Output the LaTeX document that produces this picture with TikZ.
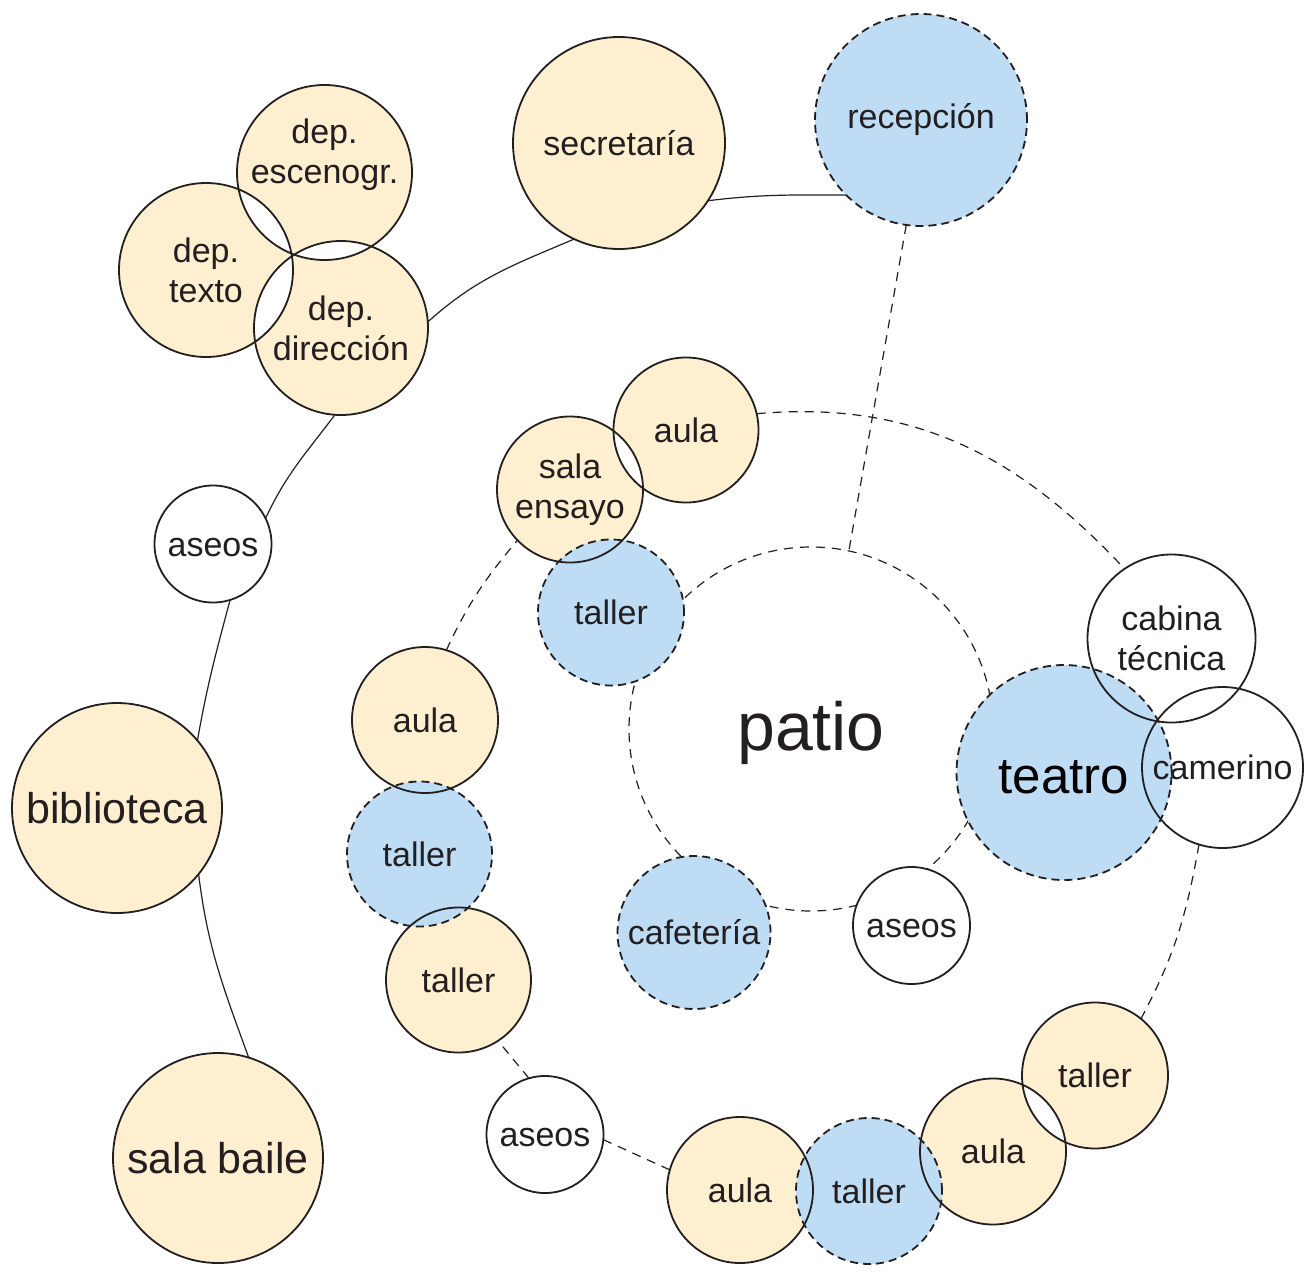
\documentclass[tikz,border=0pt]{standalone}
\usepackage{fontspec}
\setmainfont{Liberation Sans}
\definecolor{yel}{HTML}{FDEFCF}
\definecolor{blu}{HTML}{BEDDF5}
\definecolor{ink}{HTML}{231F20}
\pgfdeclarelayer{conn}
\pgfdeclarelayer{wfill}
\pgfdeclarelayer{yfill}
\pgfdeclarelayer{bfill}
\pgfsetlayers{conn,wfill,yfill,bfill,main}
\begin{document}
\begin{tikzpicture}[x=0.5pt,y=0.5pt,
  base/.style={circle,inner sep=0pt,outer sep=0pt,align=center,text=ink,
    font=\fontsize{17}{20}\selectfont,line width=0.9pt,draw=ink},
  solidroom/.style={base,minimum size=#1pt},
  dashroom/.style={base,dash pattern=on 4pt off 2.5pt,minimum size=#1pt},
  lowtext/.style={text height=12pt,text depth=0pt},
  link/.style={draw=ink,line width=0.6pt},
  dlink/.style={draw=ink,line width=0.6pt,dash pattern=on 4.5pt off 3.5pt}]
\useasboundingbox (0,0) rectangle (1304,-1273);

% rooms (borders and text)
\node[dashroom=106] (rec) at (921,-120) {recepción};
\node[solidroom=106] (sec) at (619,-143) {secretaría};
\node[solidroom=87.5,text height=27pt,text depth=15.5pt] (dE) at (324.5,-172.5) {dep.\\escenogr.};
\node[solidroom=87] (dT) at (206,-270) {dep.\\texto};
\node[solidroom=87] (dD) at (341,-328) {dep.\\dirección};
\node[solidroom=58.5,lowtext] (asL) at (213,-544) {aseos};
\node[solidroom=105,font=\fontsize{21.5}{24}\selectfont] (bib) at (117,-808) {biblioteca};
\node[solidroom=105,font=\fontsize{21.5}{24}\selectfont] (sb) at (218,-1158) {sala baile};
\node[solidroom=72.5] (auT) at (686,-430) {aula};
\node[solidroom=73] (se) at (570,-489.5) {sala\\ensayo};
\node[dashroom=73] (ta1) at (611,-612.5) {taller};
\node[circle,inner sep=0pt,outer sep=0pt,minimum size=182pt,text=ink,
  font=\fontsize{34}{40}\selectfont,text height=28pt,text depth=7pt] (patio) at (811,-729) {patio};
\node[dashroom=107.5,font=\fontsize{25.5}{30}\selectfont,text=black,
  text height=21pt,text depth=0pt] (tea) at (1064,-772.5) {teatro};
\node[solidroom=84] (cab) at (1171.5,-638.5) {cabina\\técnica};
\node[solidroom=80.5] (cam) at (1222.5,-767.5) {camerino};
\node[solidroom=58.5,lowtext] (asR) at (911.5,-925.5) {aseos};
\node[dashroom=76.5] (caf) at (694,-932.5) {cafetería};
\node[solidroom=73] (auL) at (425,-720) {aula};
\node[dashroom=72.5] (ta2) at (419.5,-854) {taller};
\node[solidroom=72.5] (ta3) at (458.5,-980) {taller};
\node[solidroom=58.5,lowtext] (asB) at (545,-1134.5) {aseos};
\node[solidroom=73] (auB) at (740,-1190) {aula};
\node[dashroom=73] (ta4) at (869,-1191) {taller};
\node[solidroom=73] (auBR) at (993,-1151.5) {aula};
\node[solidroom=73] (ta5) at (1095,-1075.5) {taller};

% fills
\begin{pgfonlayer}{wfill}
\fill[white] (asL.center) circle[radius=58.5] (asR.center) circle[radius=58.5]
  (asB.center) circle[radius=58.5] (cab.center) circle[radius=84]
  (cam.center) circle[radius=80.5];
\end{pgfonlayer}
\begin{pgfonlayer}{yfill}
\fill[yel,even odd rule] (sec.center) circle[radius=106]
  (dE.center) circle[radius=87.5] (dT.center) circle[radius=87]
  (dD.center) circle[radius=87] (bib.center) circle[radius=105]
  (sb.center) circle[radius=105] (auT.center) circle[radius=72.5]
  (se.center) circle[radius=73] (auL.center) circle[radius=73]
  (ta3.center) circle[radius=72.5] (auB.center) circle[radius=73]
  (auBR.center) circle[radius=73] (ta5.center) circle[radius=73];
\end{pgfonlayer}
\begin{pgfonlayer}{bfill}
\fill[blu] (rec.center) circle[radius=106] (ta1.center) circle[radius=73]
  (tea.center) circle[radius=107.5] (caf.center) circle[radius=76.5]
  (ta2.center) circle[radius=72.5] (ta4.center) circle[radius=73];
\end{pgfonlayer}

% connectors and the patio ring (under the fills)
\begin{pgfonlayer}{conn}
\path[dlink] (patio.center) circle[radius=182];
\path[link] (rec.225) to[out=180,in=7] (sec.-33);
\path[link] (sec.245) to[out=203,in=42] (dD.4);
\path[link] (dD.266) to[out=233,in=65] (asL.26);
\path[link] (asL.287) to[out=255,in=80] (bib.40);
\path[link] (bib.-39) to[out=277,in=110] (sb.73);
\path[dlink] (rec.262) -- (patio.78);
\path[dlink] (auT.13) to[out=5,in=133] (cab.124);
\path[dlink] (cam.253) to[out=260,in=62] (ta5.51);
\path[dlink] (asB.-5) -- (auB.164);
\path[dlink] (asB.106) -- (ta3.-57);
\path[dlink] (auL.73) to[out=65,in=230] (se.224);
\end{pgfonlayer}
\end{tikzpicture}
\end{document}
